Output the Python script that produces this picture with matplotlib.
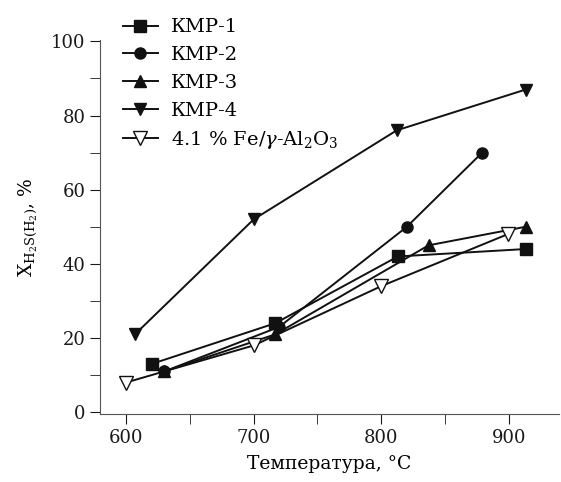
import matplotlib
matplotlib.use('Agg')
import matplotlib.pyplot as plt
from matplotlib.ticker import MultipleLocator

plt.rcParams['font.family'] = ['DejaVu Serif']
plt.rcParams['mathtext.fontset'] = 'dejavuserif'

# Datos
t_kmp1 = [620, 717, 813, 913]
x_kmp1 = [13, 24, 42, 44]
t_kmp2 = [630, 720, 820, 879]
x_kmp2 = [11, 23, 50, 70]
t_kmp3 = [630, 717, 837, 913]
x_kmp3 = [11, 21, 45, 50]
t_kmp4 = [607, 700, 812, 913]
x_kmp4 = [21, 52, 76, 87]
t_fe = [600, 700, 800, 899]
x_fe = [8, 18, 34, 48]

fig = plt.figure(figsize=(5.61, 4.82), dpi=100)
ax = fig.add_axes([0.178, 0.141, 0.818, 0.777])

kw = dict(color='#111111', linewidth=1.4)
ax.plot(t_kmp1, x_kmp1, marker='s', markersize=8.5, label='КМР-1', **kw)
ax.plot(t_kmp2, x_kmp2, marker='o', markersize=8, label='КМР-2', **kw)
ax.plot(t_kmp3, x_kmp3, marker='^', markersize=9, label='КМР-3', **kw)
ax.plot(t_kmp4, x_kmp4, marker='v', markersize=9, label='КМР-4', **kw)
ax.plot(t_fe, x_fe, marker='v', markersize=10, markerfacecolor='white',
        markeredgecolor='#111111', markeredgewidth=1.0,
        label=r'4.1 % Fe/$\gamma$-Al$_2$O$_3$', **kw)

ax.set_xlim(579.5, 939)
ax.set_ylim(-0.5, 100.5)
ax.xaxis.set_major_locator(MultipleLocator(100))
ax.xaxis.set_minor_locator(MultipleLocator(50))
ax.yaxis.set_major_locator(MultipleLocator(20))
ax.yaxis.set_minor_locator(MultipleLocator(10))
ax.tick_params(which='both', direction='out', labelsize=13, colors='#1a1a1a')
ax.tick_params(which='major', length=7)
ax.tick_params(which='minor', length=7)
for s in ['top', 'right']:
    ax.spines[s].set_visible(False)
for s in ['left', 'bottom']:
    ax.spines[s].set_color('#555555')

ax.set_xlabel('Температура, °C', fontsize=13.5, labelpad=6)
ax.set_ylabel(r'X$_{\mathregular{H_2S(H_2)}}$, %', fontsize=13.5, labelpad=8)

fig.legend(loc='upper left', bbox_to_anchor=(0.205, 0.978), frameon=False,
           fontsize=14, handlelength=1.8, handletextpad=0.7,
           labelspacing=0.5, borderaxespad=0)

fig.savefig('out.png', dpi=100)
